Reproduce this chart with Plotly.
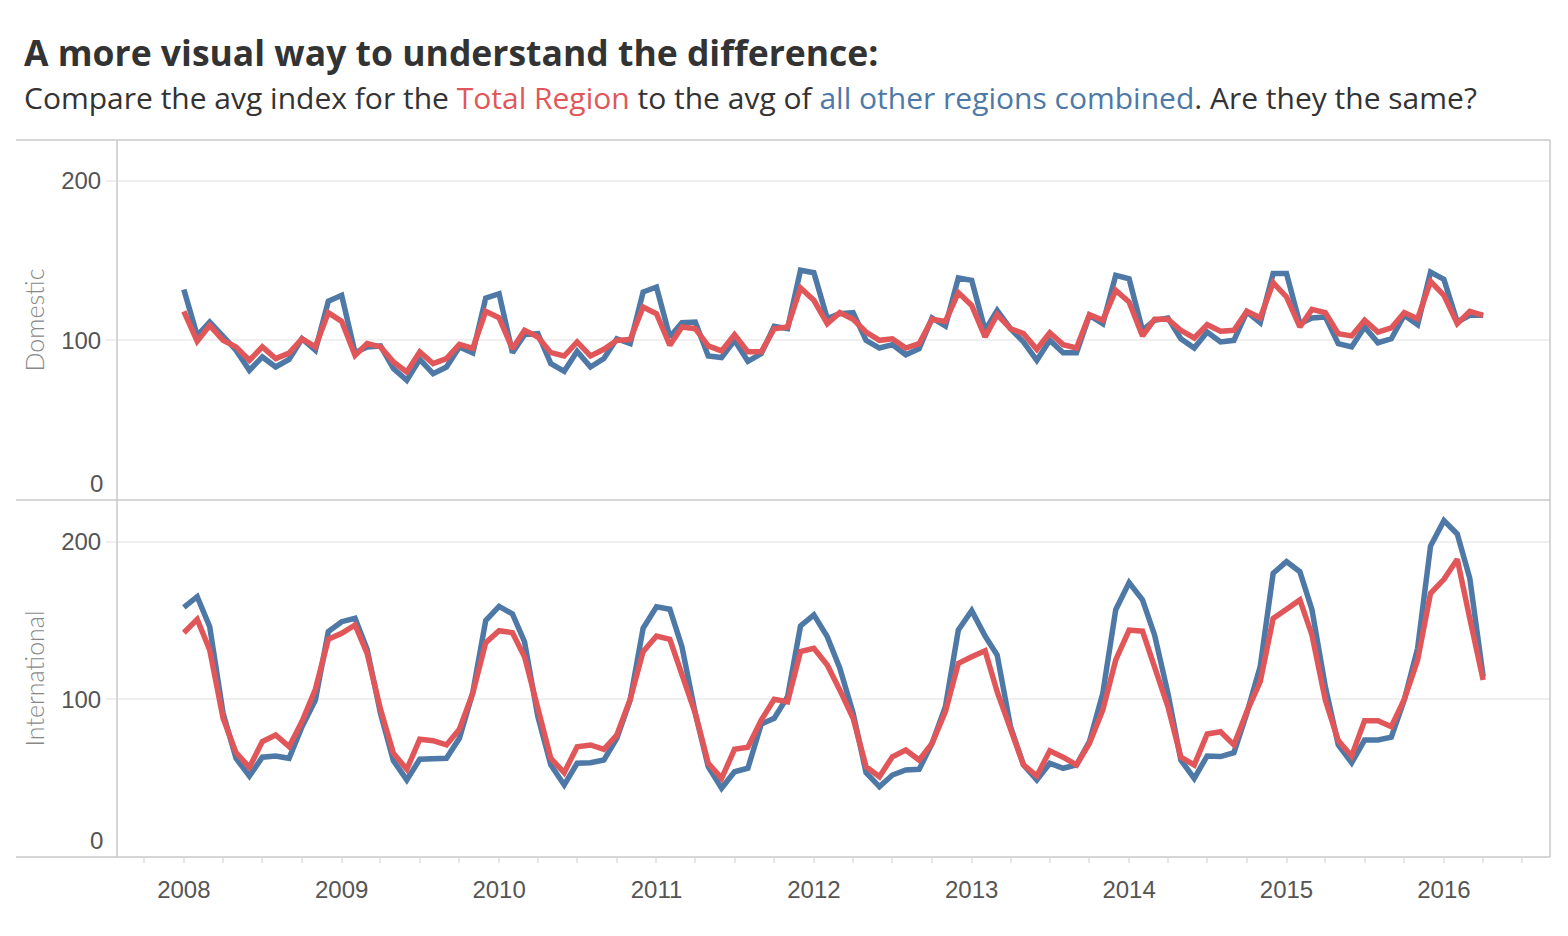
import pandas as pd
import plotly.graph_objects as go

months = pd.date_range("2008-01-01", periods=100, freq="MS")

dom_other = [131.9, 103, 111.5, 102.1, 93.8, 81.2, 89.6, 83.3, 88, 101,
             93.8, 124.5, 128.2, 92.3, 95.9, 96.5, 82.4, 75, 88.1, 79.1,
             83.3, 95.9, 92.1, 126.5, 129.2, 92.3, 103.6, 104.2, 85.4, 80.6,
             93.1, 83.3, 88.6, 101, 97.9, 130.3, 133.4, 102.1, 111.1, 111.5,
             90.2, 89.2, 100, 86.9, 91.7, 108.8, 107.3, 143.9, 142.4, 113.6,
             116.7, 117.4, 100, 95.2, 97.3, 91, 94.8, 114, 109, 139.1,
             137.6, 106.3, 118.8, 107.3, 99, 87.5, 100, 92.3, 92.3, 115.7,
             110.5, 140.7, 138.6, 106.3, 112.6, 114, 101, 95.2, 105.2, 99,
             100, 117.8, 111.1, 141.8, 141.8, 110.5, 114, 114.7, 97.9, 95.9,
             108.4, 98.5, 101, 115.7, 109.8, 142.8, 138.2, 111.5, 115.7, 115.7]

dom_total = [118.2, 99.4, 109.4, 100, 95.9, 87.5, 95.9, 88.6, 92, 101,
             95.9, 117.4, 111.9, 90.6, 98, 95.9, 86.5, 80.2, 92.8, 85.4,
             88.6, 97.5, 95, 118.2, 114.1, 94.8, 106.3, 102.1, 92.3, 90.2,
             99, 90.2, 94.4, 100, 100.5, 120.9, 116.7, 96.9, 108.4, 107.3,
             96.5, 93.4, 103.6, 92.8, 92.8, 107.3, 108.4, 132.8, 125.1, 110.5,
             117.4, 113.2, 105.2, 100, 101, 95.2, 97.9, 113.2, 111.9, 129.9,
             121.9, 102.1, 116.1, 107.3, 104.2, 94.4, 104.8, 97.3, 95.2, 116.1,
             112.6, 131.3, 124, 102.8, 113.2, 113.2, 106.3, 101.5, 109.8, 105.7,
             106.3, 118.2, 114.1, 136.1, 127.2, 108.4, 119.4, 117.4, 104.2, 102.8,
             112.6, 105.2, 107.8, 117.4, 113.6, 137, 128.2, 110.5, 118.2, 115.7]

int_other = [158.4, 165.2, 146.1, 91.2, 62.6, 51.4, 63.3, 64.1, 62.6, 82.7,
             99.6, 143, 149.3, 151.4, 131.8, 91.2, 61.1, 48.9, 62, 62,
             62.6, 75.3, 104.3, 150, 159, 154.2, 136.6, 89, 58.4, 45.7,
             59.5, 59.8, 61.5, 75.3, 99.6, 145.1, 158.8, 157.2, 133.4, 91.2,
             57.3, 43.6, 54.1, 56.3, 84.4, 88, 101.7, 146.6, 153.6, 139.8,
             120, 91.2, 53.5, 44.6, 52, 55.2, 55.6, 72.1, 95.4, 144,
             156.3, 140.2, 128.2, 82.7, 58.4, 48.9, 59.5, 56.3, 58.4, 73.2,
             103.9, 156.9, 174.1, 163.1, 140.9, 103.9, 61.5, 49.9, 64.1, 63.7,
             66.2, 91.2, 120.8, 180, 187.4, 181, 156.9, 108.1, 71.1, 59.8,
             74.2, 74.2, 76, 99.6, 132.4, 197.3, 213.4, 204.9, 176.8, 114.4]

int_total = [142.3, 150.8, 131.3, 88, 66.2, 56.9, 73.2, 77.4, 70, 85.9,
             106.4, 138.1, 141.9, 147.2, 129.2, 93.7, 65.8, 55.6, 74.7, 73.8,
             71.1, 81, 103.9, 136, 143.6, 142.3, 127.1, 93.3, 62.6, 53.5,
             70, 71.1, 68.3, 77.4, 100, 130.3, 140.2, 138.1, 115.5, 91.2,
             59.5, 49.9, 68.3, 69.6, 86.9, 100, 98.5, 130.3, 132.4, 121.8,
             106, 88, 57.3, 50.9, 63.6, 67.9, 61.5, 72.1, 92.2, 122.9,
             127.1, 130.9, 104.9, 80.8, 58.4, 51.4, 67.4, 63.3, 58.4, 72.1,
             93.3, 125, 144, 143.3, 119.7, 95.4, 63.3, 58.4, 78, 79.5,
             71.1, 92.2, 111.3, 151.4, 157.2, 163.1, 140.9, 99.6, 73.8, 64.1,
             86.5, 86.5, 82.7, 100, 125, 167.3, 176.2, 188.9, 151.4, 112.3]

panel_names = ["Domestic", "International"]
y_ticks = [100, 200]

BLUE = "#4e79a7"
RED = "#e15759"
FRAME = "#c8c8c8"
GRID = "#efefef"
TICKFONT = dict(family="Liberation Sans, Arial, sans-serif", size=24, color="#555555")
TITLEFONT = dict(family="Lato, sans-serif", size=25, color="#888888", weight=300)

fig = go.Figure()
fig.add_trace(go.Scatter(x=months, y=dom_other, mode="lines", xaxis="x2", yaxis="y",
                         line=dict(color=BLUE, width=5.5), showlegend=False))
fig.add_trace(go.Scatter(x=months, y=dom_total, mode="lines", xaxis="x2", yaxis="y",
                         line=dict(color=RED, width=5.5), showlegend=False))
fig.add_trace(go.Scatter(x=months, y=int_other, mode="lines", xaxis="x", yaxis="y2",
                         line=dict(color=BLUE, width=5.5), showlegend=False))
fig.add_trace(go.Scatter(x=months, y=int_total, mode="lines", xaxis="x", yaxis="y2",
                         line=dict(color=RED, width=5.5), showlegend=False))

split = 1 - 360 / 717
xrange = ["2007-07-30", "2016-09-03"]

fig.update_layout(
    width=1552, height=920,
    margin=dict(l=109, r=10, t=132, b=71),
    paper_bgcolor="white", plot_bgcolor="white",
    xaxis=dict(type="date", range=xrange, anchor="y2", domain=[0, 1],
               tick0="2008-01-01", dtick="M12", tickformat="%Y",
               ticks="outside", ticklen=5, tickwidth=1.5, tickcolor="#e6e6e6",
               minor=dict(dtick="M3", ticks="outside", ticklen=5, tickwidth=1.5, tickcolor="#e6e6e6"),
               showgrid=False, zeroline=False, showline=False,
               tickfont=TICKFONT, ticklabelstandoff=6),
    xaxis2=dict(type="date", range=xrange, anchor="y", matches="x", domain=[0, 1],
                showticklabels=False, ticks="", showgrid=False, zeroline=False, showline=False),
    yaxis=dict(domain=[split, 1], range=[0, 225.5], anchor="x2",
               tickvals=y_ticks, ticks="outside", ticklen=10, tickwidth=1.5, tickcolor=GRID,
               showgrid=True, gridcolor=GRID, gridwidth=1.5, zeroline=False, showline=False,
               tickfont=TICKFONT,
               title=dict(text=panel_names[0], font=TITLEFONT, standoff=9)),
    yaxis2=dict(domain=[0, split], range=[0, 226.5], anchor="x",
                tickvals=y_ticks, ticks="outside", ticklen=10, tickwidth=1.5, tickcolor=GRID,
                showgrid=True, gridcolor=GRID, gridwidth=1.5, zeroline=False, showline=False,
                tickfont=TICKFONT,
                title=dict(text=panel_names[1], font=TITLEFONT, standoff=9)),
)

# zero labels nudged inside the pane (as in the original)
for yref in ["y", "y2"]:
    fig.add_annotation(x=-0.0085, xref="paper", xanchor="right", y=0, yref=yref,
                       yanchor="middle", yshift=17, text="0", showarrow=False, font=TICKFONT)

# frame lines
left = (16 - 117) / 1433
line_style = dict(color=FRAME, width=1.5)
for yy in [0, split, 1]:
    fig.add_shape(type="line", xref="paper", yref="paper", x0=left, x1=1, y0=yy, y1=yy, line=line_style)
for xx in [0, 1]:
    fig.add_shape(type="line", xref="paper", yref="paper", x0=xx, x1=xx, y0=0, y1=1, line=line_style)

# title & subtitle
fig.add_annotation(x=(22 - 117) / 1433, xref="paper", xanchor="left",
                   y=(857 - 52) / 717, yref="paper", yanchor="middle", showarrow=False,
                   text="<b>A more visual way to understand the difference:</b>",
                   font=dict(family="Open Sans, sans-serif", size=35.5, color="#333333"))
fig.add_annotation(x=(22 - 117) / 1433, xref="paper", xanchor="left",
                   y=(857 - 98) / 717, yref="paper", yanchor="middle", showarrow=False,
                   text=("Compare the avg index for the <span style='color:%s'>Total Region</span> "
                         "to the avg of <span style='color:%s'>all other regions combined</span>. "
                         "Are they the same?") % (RED, BLUE),
                   font=dict(family="Open Sans, sans-serif", size=30, color="#333333"))

fig.write_html("out.html")
